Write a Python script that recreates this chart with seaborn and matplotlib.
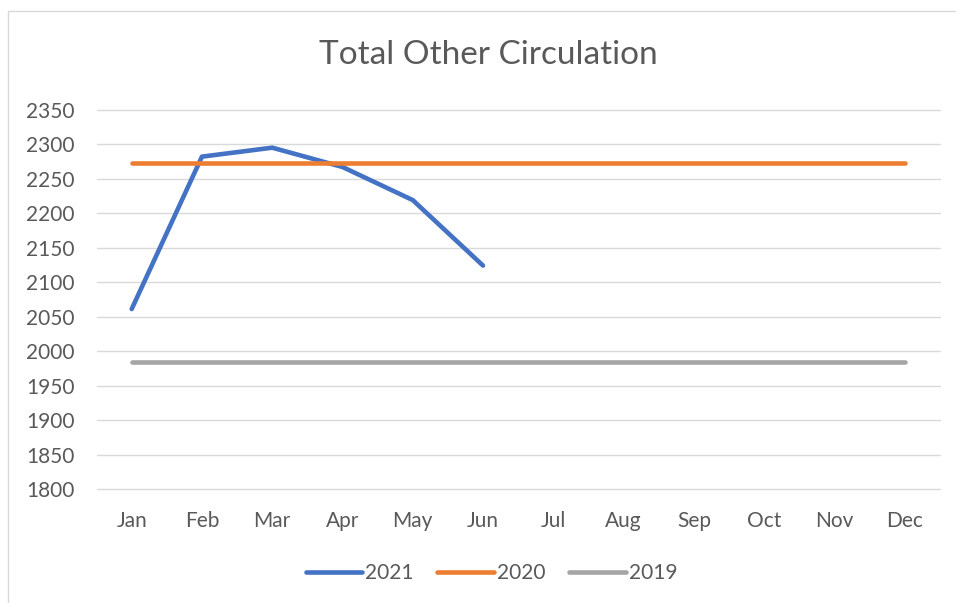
import pandas as pd
import matplotlib.pyplot as plt
import seaborn as sns
from matplotlib.patches import Rectangle

# data
months = ["Jan", "Feb", "Mar", "Apr", "May", "Jun",
          "Jul", "Aug", "Sep", "Oct", "Nov", "Dec"]
vals_2021 = [2061, 2282, 2295, 2267, 2219, 2124]
vals_2020 = [2273, 2273, 2273, 2273, 2273, 2273,
             2273, 2273, 2273, 2273, 2273, 2273]
vals_2019 = [1984, 1984, 1984, 1984, 1984, 1984,
             1984, 1984, 1984, 1984, 1984, 1984]
y_ticks = [1800, 1850, 1900, 1950, 2000, 2050, 2100,
           2150, 2200, 2250, 2300, 2350]

series = {"2021": vals_2021, "2020": vals_2020, "2019": vals_2019}
rows = []
for year, vals in series.items():
    for i, v in enumerate(vals):
        rows.append({"month": i, "value": v, "year": year})
df = pd.DataFrame(rows)

colors = {"2021": "#4472C4", "2020": "#ED7D31", "2019": "#A5A5A5"}
text_col = "#595959"

sns.set_style("white")
plt.rcParams["font.family"] = ["Lato", "DejaVu Sans"]

fig = plt.figure(figsize=(9.56, 6.03), dpi=100)
ax = fig.add_axes([0.101, 0.189, 0.882, 0.629])

# outer chart border like the spreadsheet chart area
fig.patches.append(Rectangle((8 / 956, -0.1), 1.1, 1 - 11 / 603 + 0.1,
                             transform=fig.transFigure, fill=False,
                             edgecolor="#D9D9D9", linewidth=1))

sns.lineplot(data=df, x="month", y="value", hue="year", palette=colors,
             linewidth=3.3, solid_capstyle="round", ax=ax, legend=False)

ax.set_xlim(-0.5, 11.5)
ax.set_ylim(1800, 2350)
ax.set_yticks(y_ticks)
ax.set_xticks(range(len(months)))
ax.set_xticklabels(months)
ax.grid(axis="y", color="#D9D9D9", linewidth=1)
for gl in ax.get_ygridlines():
    gl.set_clip_on(False)
ax.set_axisbelow(True)
for s in ax.spines.values():
    s.set_visible(False)
ax.tick_params(axis="y", length=0, pad=16, labelsize=15, labelcolor=text_col)
ax.tick_params(axis="x", length=0, pad=16, labelsize=15, labelcolor=text_col)
ax.set_xlabel("")
ax.set_ylabel("")

fig.text(0.511, 0.909, "Total Other Circulation", ha="center", va="center",
         fontsize=24, color=text_col)

handles = [plt.Line2D([], [], color=colors[y], linewidth=3.3,
                      solid_capstyle="round") for y in series]
fig.legend(handles, list(series.keys()), loc="center", ncol=3,
           bbox_to_anchor=(0.514, 0.05), frameon=False, handlelength=2.7,
           handletextpad=0.15, columnspacing=1.15, labelcolor=text_col,
           fontsize=15)

fig.savefig("out.png", dpi=100)
